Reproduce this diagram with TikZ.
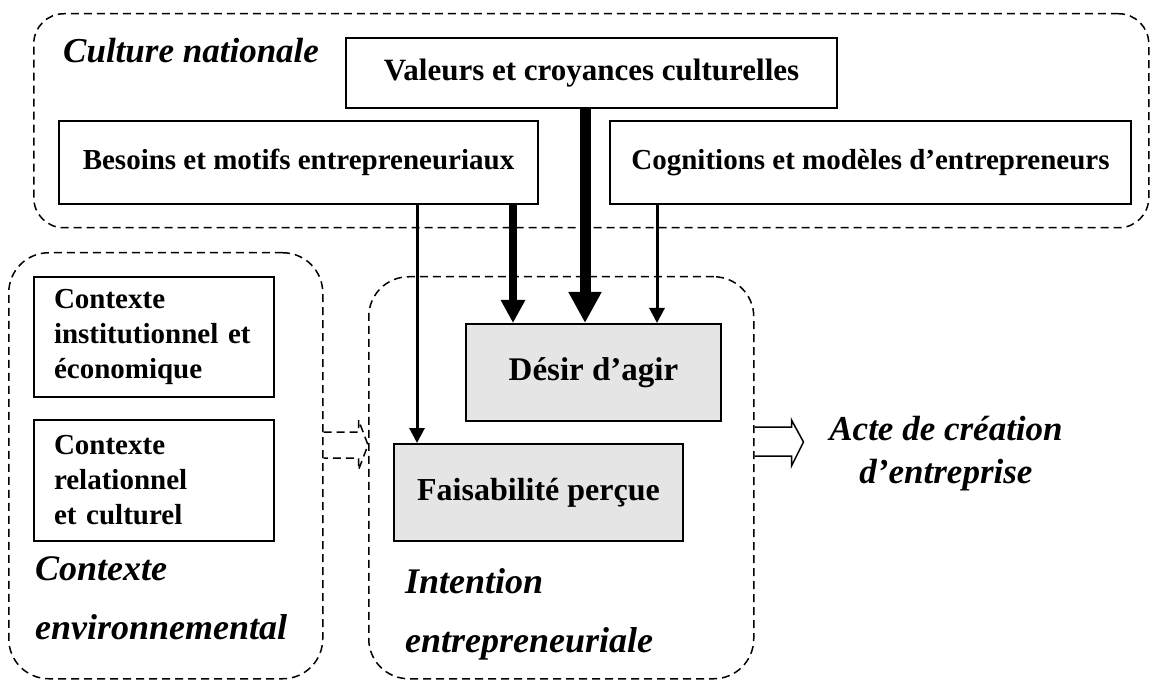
\documentclass[tikz,border=0pt]{standalone}
\usepackage{fontspec}
\setmainfont{Liberation Serif}
\usetikzlibrary{arrows.meta,calc}
\begin{document}
\begin{tikzpicture}[x=1pt,y=-1pt,
  dbox/.style={draw, line width=1.5pt, dash pattern=on 8pt off 5pt, rounded corners=#1, inner sep=0pt, anchor=north west},
  box/.style={draw, line width=2pt, inner sep=0pt, anchor=north west, font=\fontsize{29}{35}\selectfont\bfseries},
  gbox/.style={box, fill=black!10, font=\fontsize{32}{38}\selectfont\bfseries},
  lbox/.style={box, align=left, text width=200pt, inner xsep=20pt},
  lbl/.style={font=\fontsize{36}{59}\selectfont\bfseries\itshape, inner sep=0pt, align=left, anchor=north west},
  arrA/.style={line width=3pt, -{Triangle[length=15pt,width=15pt]}},
  arrB/.style={line width=8pt, -{Triangle[length=23pt,width=23pt]}},
  arrC/.style={line width=11pt, -{Triangle[length=31pt,width=31pt]}},
]
\useasboundingbox (0,0) rectangle (1156,684);

% dashed groups
\node[dbox=30pt, minimum width=1115pt, minimum height=214pt] (culture) at (33,13) {};
\node[dbox=40pt, minimum width=314pt, minimum height=426pt] (envir) at (8,252) {};
\node[dbox=40pt, minimum width=385pt, minimum height=402pt] (intent) at (368,276) {};

% labels
\node[lbl, anchor=base west, font=\fontsize{35}{40}\selectfont\bfseries\itshape] (lcult) at (63,63) {Culture nationale};
\node[lbl] (lenv) at (35,556) {Contexte\\environnemental};
\node[lbl] (lint) at (405,568) {Intention\\entrepreneuriale};
\node[lbl, align=center, anchor=north, font=\fontsize{35}{43}\selectfont\bfseries\itshape] (acte) at (946,416) {Acte de création\\d’entreprise};

% boxes
\node[box, minimum width=491pt, minimum height=70pt, font=\fontsize{31}{36}\selectfont\bfseries] (valeurs) at (345,37) {Valeurs et croyances culturelles};
\node[box, minimum width=479pt, minimum height=83pt] (besoins) at (58,120) {Besoins et motifs entrepreneuriaux};
\node[box, minimum width=521pt, minimum height=83pt] (cogn) at (609,120) {Cognitions et modèles d’entrepreneurs};
\node[lbox, minimum height=120pt] (inst) at (33,276) {Contexte\\institutionnel et\\économique};
\node[lbox, minimum height=121pt] (rel) at (33,419) {Contexte\\relationnel\\et culturel};
\node[gbox, minimum width=255pt, minimum height=97pt, font=\fontsize{33}{38}\selectfont\bfseries] (desir) at (465,323) {Désir d’agir};
\node[gbox, minimum width=289pt, minimum height=97pt] (faisab) at (393,443) {Faisabilité perçue};

% arrow columns
\coordinate (c1) at (417,0);
\coordinate (c2) at (513,0);
\coordinate (c3) at (585,0);
\coordinate (c4) at (657,0);
\draw[arrA] (besoins.south -| c1) -- (faisab.north -| c1);
\draw[arrB] (besoins.south -| c2) -- (desir.north -| c2);
\draw[arrC] (valeurs.south -| c3) -- (desir.north -| c3);
\draw[arrA] (cogn.south -| c4) -- (desir.north -| c4);

% dashed block arrow from environment to intention
\coordinate (da) at (envir.east |- 0,445);
\draw[line width=1.5pt, dash pattern=on 8pt off 5pt]
  ($(da)+(0,-13)$) -- ++(35,0) -- ++(0,-12) -- ($(intent.west |- da)$) -- ($(da)+(35,25)$) -- ++(0,-12) -- ++(-35,0);

% hollow block arrow from intention to act
\coordinate (ha) at (intent.east |- 0,442);
\draw[line width=1.5pt, line join=miter]
  ($(ha)+(0,-15)$) -- ++(37,0) -- ++(0,-7) -- ($(ha)+(49,0)$) -- ($(ha)+(37,24)$) -- ++(0,-10) -- ++(-37,0);
\end{tikzpicture}
\end{document}
